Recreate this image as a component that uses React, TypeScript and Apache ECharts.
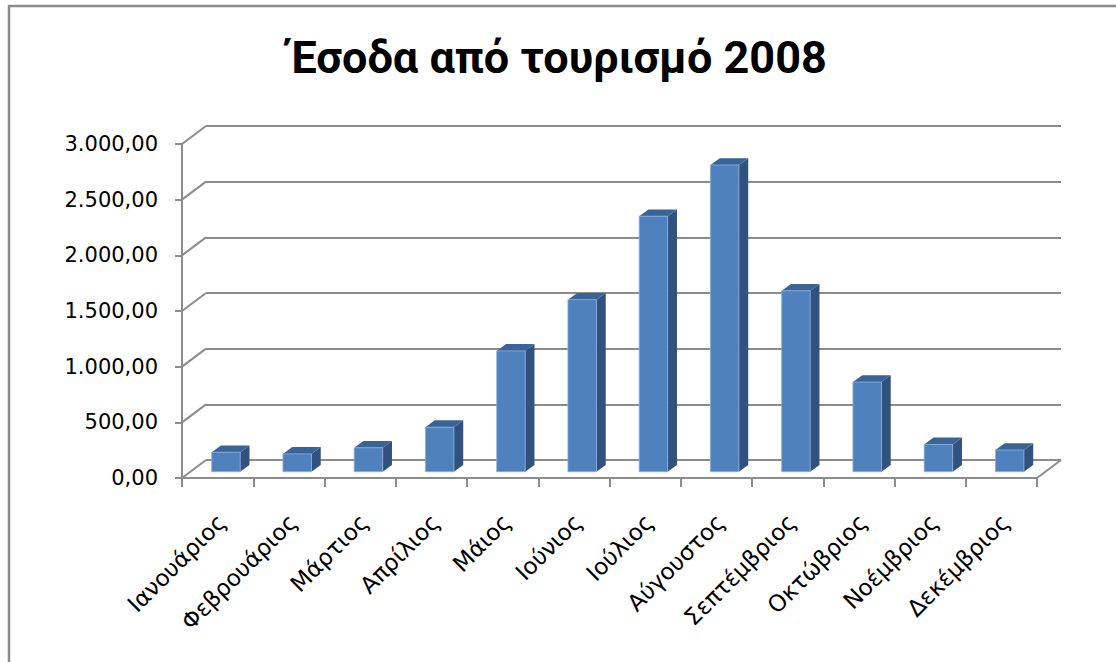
import React, { useEffect, useRef } from "react";
import * as echarts from "echarts";

const months = [
  "Ιανουάριος",
  "Φεβρουάριος",
  "Μάρτιος",
  "Απρίλιος",
  "Μάιος",
  "Ιούνιος",
  "Ιούλιος",
  "Αύγουστος",
  "Σεπτέμβριος",
  "Οκτώβριος",
  "Νοέμβριος",
  "Δεκέμβριος",
];
const revenue = [175, 160, 215, 400, 1085, 1545, 2295, 2755, 1625, 805, 245, 195];
const yTicks = [0, 500, 1000, 1500, 2000, 2500, 3000];
const titleText = "Έσοδα από τουρισμό 2008";

// layout / style constants
const FRONT = { left: 182, top: 144, width: 855, height: 334 };
const DEPTH_X = 24;
const DEPTH_Y = -18;
const LABEL_SHIFT_X = 4;
const BAR_RATIO = 0.4;
const BAR_SHIFT_X = 8.3;
const BAR_SHIFT_Y = -6.3;
const BAR_DEPTH_X = 9.3;
const BAR_DEPTH_Y = -6.8;
const GRID_COLOR = "#8c8c8c";
const FONT = "DejaVu Sans";

function fmt(v: number): string {
  const s = v.toFixed(2);
  const [int, dec] = s.split(".");
  const withDots = int.replace(/\B(?=(\d{3})+(?!\d))/g, ".");
  return `${withDots},${dec}`;
}

export default function App() {
  const ref = useRef<HTMLDivElement>(null);
  useEffect(() => {
    if (!ref.current) return;
    const chart = echarts.init(ref.current, null, { renderer: "svg" });
    const option: any = {
      animation: false,
      backgroundColor: "#ffffff",
      title: {
        text: titleText,
        left: "center",
        top: 30,
        textStyle: {
          fontFamily: "Roboto",
          fontWeight: "bold",
          fontSize: 45,
          color: "#000000",
        },
      },
      graphic: [
        {
          type: "polyline",
          shape: { points: [[9, 662], [9, 6], [1116, 6]] },
          style: { stroke: "#8a8a8a", lineWidth: 2.5, fill: "none" },
          z: 100,
        },
      ],
      grid: [
        { ...FRONT },
        {
          left: FRONT.left + DEPTH_X,
          top: FRONT.top + DEPTH_Y,
          width: FRONT.width,
          height: FRONT.height,
        },
        {
          left: FRONT.left + LABEL_SHIFT_X,
          top: FRONT.top,
          width: FRONT.width,
          height: FRONT.height,
        },
      ],
      xAxis: [
        {
          type: "category",
          gridIndex: 0,
          data: months,
          axisLine: { show: true, lineStyle: { color: GRID_COLOR, width: 2 } },
          axisTick: {
            show: true,
            interval: 0,
            length: 9,
            lineStyle: { color: GRID_COLOR, width: 2 },
          },
          axisLabel: { show: false },
          splitLine: { show: false },
        },
        {
          type: "category",
          gridIndex: 1,
          data: months,
          show: false,
        },
        {
          type: "category",
          gridIndex: 2,
          data: months,
          axisLine: { show: false },
          axisTick: { show: false },
          splitLine: { show: false },
          axisLabel: {
            show: true,
            interval: 0,
            rotate: 45,
            margin: 40,
            fontFamily: FONT,
            fontSize: 23,
            color: "#000000",
          },
        },
      ],
      yAxis: [
        {
          type: "value",
          gridIndex: 0,
          min: 0,
          max: 3000,
          interval: 500,
          axisLine: { show: true, lineStyle: { color: GRID_COLOR, width: 2 } },
          axisTick: { show: true, length: 7, lineStyle: { color: GRID_COLOR, width: 2 } },
          splitLine: { show: false },
          axisLabel: {
            formatter: (v: number) => fmt(v),
            margin: 24,
            fontFamily: FONT,
            fontSize: 21,
            color: "#000000",
          },
        },
        {
          type: "value",
          gridIndex: 1,
          min: 0,
          max: 3000,
          interval: 500,
          axisLine: { show: false },
          axisTick: { show: false },
          axisLabel: { show: false },
          splitLine: { show: true, lineStyle: { color: GRID_COLOR, width: 2 } },
        },
        {
          type: "value",
          gridIndex: 2,
          min: 0,
          max: 3000,
          show: false,
        },
      ],
      series: [
        {
          type: "custom",
          xAxisIndex: 0,
          yAxisIndex: 0,
          data: yTicks.map((v) => [0, v]),
          z: 1,
          renderItem: (params: any, api: any) => {
            const p = api.coord([0, api.value(1)]);
            const half = api.size([1, 0])[0] / 2;
            const x0 = p[0] - half;
            const children: any[] = [
              {
                type: "line",
                shape: { x1: x0, y1: p[1], x2: x0 + DEPTH_X, y2: p[1] + DEPTH_Y },
                style: { stroke: GRID_COLOR, lineWidth: 2 },
              },
            ];
            if (api.value(1) === 0) {
              const q = api.coord([months.length - 1, 0]);
              const x1 = q[0] + half;
              children.push({
                type: "line",
                shape: { x1: x1, y1: q[1], x2: x1 + DEPTH_X, y2: q[1] + DEPTH_Y },
                style: { stroke: GRID_COLOR, lineWidth: 2 },
              });
            }
            return { type: "group", children };
          },
        },
        {
          type: "custom",
          xAxisIndex: 0,
          yAxisIndex: 0,
          data: revenue.map((v, i) => [i, v]),
          z: 5,
          renderItem: (params: any, api: any) => {
            const i = api.value(0);
            const v = api.value(1);
            const base = api.coord([i, 0]);
            const top = api.coord([i, v]);
            const cw = api.size([1, 0])[0];
            const bw = cw * BAR_RATIO;
            const x = base[0] + BAR_SHIFT_X - bw / 2;
            const yb = base[1] + BAR_SHIFT_Y;
            const yt = top[1] + BAR_SHIFT_Y;
            return {
              type: "group",
              children: [
                {
                  type: "polygon",
                  shape: {
                    points: [
                      [x + bw, yt],
                      [x + bw + BAR_DEPTH_X, yt + BAR_DEPTH_Y],
                      [x + bw + BAR_DEPTH_X, yb + BAR_DEPTH_Y],
                      [x + bw, yb],
                    ],
                  },
                  style: { fill: "#31527e" },
                },
                {
                  type: "polygon",
                  shape: {
                    points: [
                      [x, yt],
                      [x + BAR_DEPTH_X, yt + BAR_DEPTH_Y],
                      [x + bw + BAR_DEPTH_X, yt + BAR_DEPTH_Y],
                      [x + bw, yt],
                    ],
                  },
                  style: { fill: "#3a6398" },
                },
                {
                  type: "rect",
                  shape: { x: x, y: yt, width: bw, height: yb - yt },
                  style: {
                    fill: "#4f81bd",
                    stroke: "rgba(140,175,220,0.8)",
                    lineWidth: 1,
                  },
                },
              ],
            };
          },
        },
      ],
    };
    chart.setOption(option);
    return () => chart.dispose();
  }, []);
  return (
    <div
      ref={ref}
      style={{ position: "fixed", left: 0, top: 0, width: 1116, height: 662 }}
    />
  );
}
